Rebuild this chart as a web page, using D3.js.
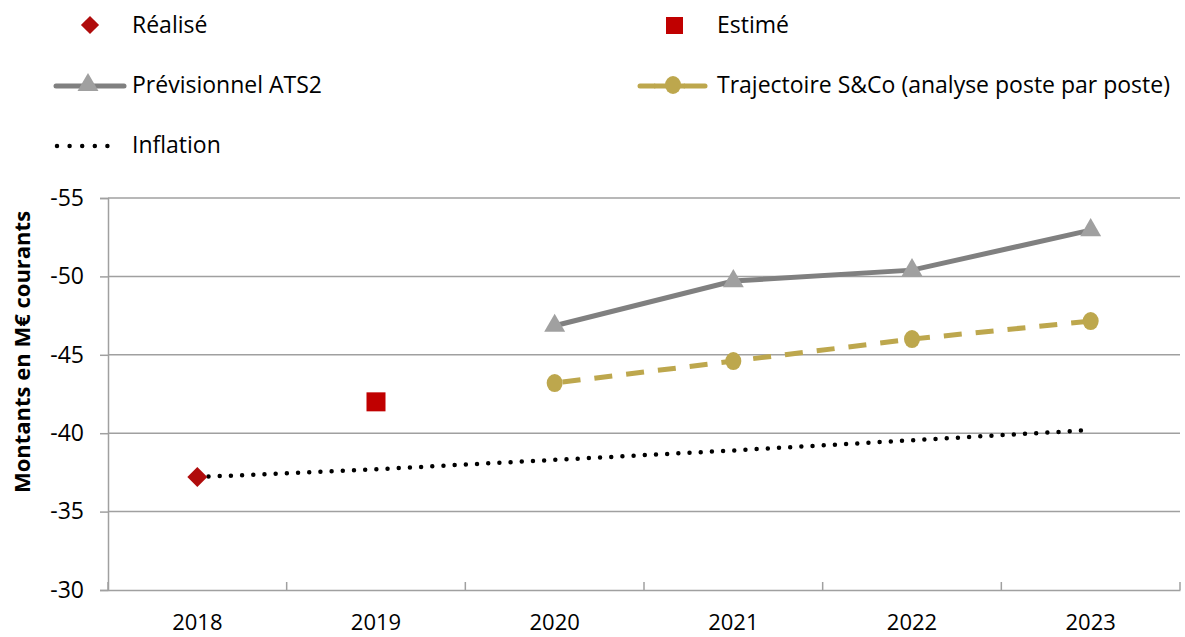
<!DOCTYPE html>
<html><head><meta charset="utf-8">
<script src="https://cdn.jsdelivr.net/npm/d3@7"></script>
<style>body{margin:0;background:#fff}svg{display:block}text{font-family:"Open Sans",Lato,sans-serif;fill:#000}</style>
</head><body>
<script>
const years = ["2018","2019","2020","2021","2022","2023"];
const realise = [{year:"2018", value:-37.2}];
const estime = [{year:"2019", value:-42.0}];
const ats2 = [{year:"2020",value:-46.85},{year:"2021",value:-49.7},{year:"2022",value:-50.4},{year:"2023",value:-52.95}];
const sco = [{year:"2020",value:-43.2},{year:"2021",value:-44.6},{year:"2022",value:-46.0},{year:"2023",value:-47.15}];
const inflation = [{year:"2018",value:-37.2},{year:"2019",value:-37.7},{year:"2020",value:-38.3},{year:"2021",value:-38.9},{year:"2022",value:-39.55},{year:"2023",value:-40.2}];
const yTicks = [-55,-50,-45,-40,-35,-30];
const yTitle = "Montants en M€ courants";

(function(){
const W=1185,H=637;
const svg=d3.select("body").append("svg").attr("width",W).attr("height",H);
const pL=108,pR=1180,pT=198,pB=590;
const FS=23;
const x=d3.scaleBand().domain(years).range([pL,pR]);
const xc=d=>x(d)+x.bandwidth()/2;
const y=d3.scaleLinear().domain([-30,-55]).range([pB,pT]);
const grid="#a0a0a0";

svg.append("g").selectAll("line").data(yTicks.filter(t=>t!==-30)).join("line")
 .attr("x1",pL).attr("x2",pR).attr("y1",d=>y(d)).attr("y2",d=>y(d))
 .attr("stroke",grid).attr("stroke-width",1.5);

const ya=svg.append("g").attr("transform",`translate(${pL},0)`)
 .call(d3.axisLeft(y).tickValues(yTicks).tickSize(8).tickPadding(16).tickFormat(d=>d));
ya.select(".domain").attr("stroke",grid).attr("stroke-width",1.5);
ya.selectAll(".tick line").attr("stroke",grid).attr("stroke-width",1.5);
ya.selectAll(".tick text").attr("font-size",FS).attr("font-family","Open Sans");

const xa=svg.append("g").attr("transform",`translate(0,${pB})`)
 .call(d3.axisBottom(x).tickSize(0).tickPadding(24));
xa.select(".domain").attr("stroke",grid).attr("stroke-width",1.5);
xa.selectAll(".tick text").attr("font-size",22).attr("font-family","Open Sans");
const seps=years.map(d=>x(d)).concat([pR]);
svg.append("g").selectAll("line").data(seps).join("line")
 .attr("x1",d=>d).attr("x2",d=>d).attr("y1",pB).attr("y2",pB-8)
 .attr("stroke",grid).attr("stroke-width",1.5);

svg.append("text").attr("transform",`translate(30,352) rotate(-90)`)
 .attr("text-anchor","middle").attr("font-size",22).attr("font-weight","bold").text(yTitle);

const line=d3.line().x(d=>xc(d.year)).y(d=>y(d.value));
const gold="#bda74d", grayL="#808080", grayM="#a0a0a0";

svg.append("path").datum(inflation).attr("d",line).attr("fill","none")
 .attr("stroke","#000").attr("stroke-width",4.5).attr("stroke-linecap","round")
 .attr("stroke-dasharray","0 11.2");

svg.append("path").datum(sco).attr("d",line).attr("fill","none")
 .attr("stroke",gold).attr("stroke-width",5).attr("stroke-dasharray","18 14").attr("stroke-dashoffset",-8);
svg.append("g").selectAll("ellipse").data(sco).join("ellipse")
 .attr("cx",d=>xc(d.year)).attr("cy",d=>y(d.value)).attr("rx",8).attr("ry",9).attr("fill",gold);

svg.append("path").datum(ats2).attr("d",line).attr("fill","none")
 .attr("stroke",grayL).attr("stroke-width",5);
const tri=d3.symbol().type(d3.symbolTriangle).size(190);
svg.append("g").selectAll("path").data(ats2).join("path")
 .attr("d",tri).attr("transform",d=>`translate(${xc(d.year)},${y(d.value)})`).attr("fill",grayM);

const dia=d3.symbol().type(d3.symbolSquare).size(200);
svg.append("g").selectAll("path").data(realise).join("path")
 .attr("d",dia).attr("transform",d=>`translate(${xc(d.year)},${y(d.value)}) rotate(45)`).attr("fill","#b00c0c");
svg.append("g").selectAll("rect").data(estime).join("rect")
 .attr("x",d=>xc(d.year)-9.5).attr("y",d=>y(d.value)-9.5).attr("width",19).attr("height",19).attr("fill","#c00000");

const lg=svg.append("g");
lg.append("path").attr("d",d3.symbol().type(d3.symbolSquare).size(165)()).attr("transform","translate(90,25) rotate(45)").attr("fill","#b00c0c");
lg.append("text").attr("x",132).attr("y",33).attr("font-size",FS).text("Réalisé");
lg.append("rect").attr("x",666).attr("y",17).attr("width",17).attr("height",17).attr("fill","#c00000");
lg.append("text").attr("x",717).attr("y",33).attr("font-size",FS).text("Estimé");

lg.append("line").attr("x1",56).attr("x2",124).attr("y1",86).attr("y2",86).attr("stroke",grayL).attr("stroke-width",5).attr("stroke-linecap","round");
lg.append("path").attr("d",tri()).attr("transform","translate(88,85)").attr("fill",grayM);
lg.append("text").attr("x",132).attr("y",93).attr("font-size",FS).text("Prévisionnel ATS2");

lg.append("line").attr("x1",640).attr("x2",654).attr("y1",86).attr("y2",86).attr("stroke",gold).attr("stroke-width",5).attr("stroke-linecap","round");
lg.append("line").attr("x1",685).attr("x2",705).attr("y1",86).attr("y2",86).attr("stroke",gold).attr("stroke-width",5).attr("stroke-linecap","round");
lg.append("line").attr("x1",654).attr("x2",685).attr("y1",86).attr("y2",86).attr("stroke",gold).attr("stroke-width",5);
lg.append("ellipse").attr("cx",673).attr("cy",85).attr("rx",8).attr("ry",9).attr("fill",gold);
lg.append("text").attr("x",717).attr("y",93).attr("font-size",FS).text("Trajectoire S&Co (analyse poste par poste)");

lg.append("line").attr("x1",57).attr("x2",120).attr("y1",146).attr("y2",146).attr("stroke","#000").attr("stroke-width",4.5).attr("stroke-linecap","round").attr("stroke-dasharray","0 12.6");
lg.append("text").attr("x",132).attr("y",153).attr("font-size",FS).text("Inflation");
})();
</script>
</body></html>
